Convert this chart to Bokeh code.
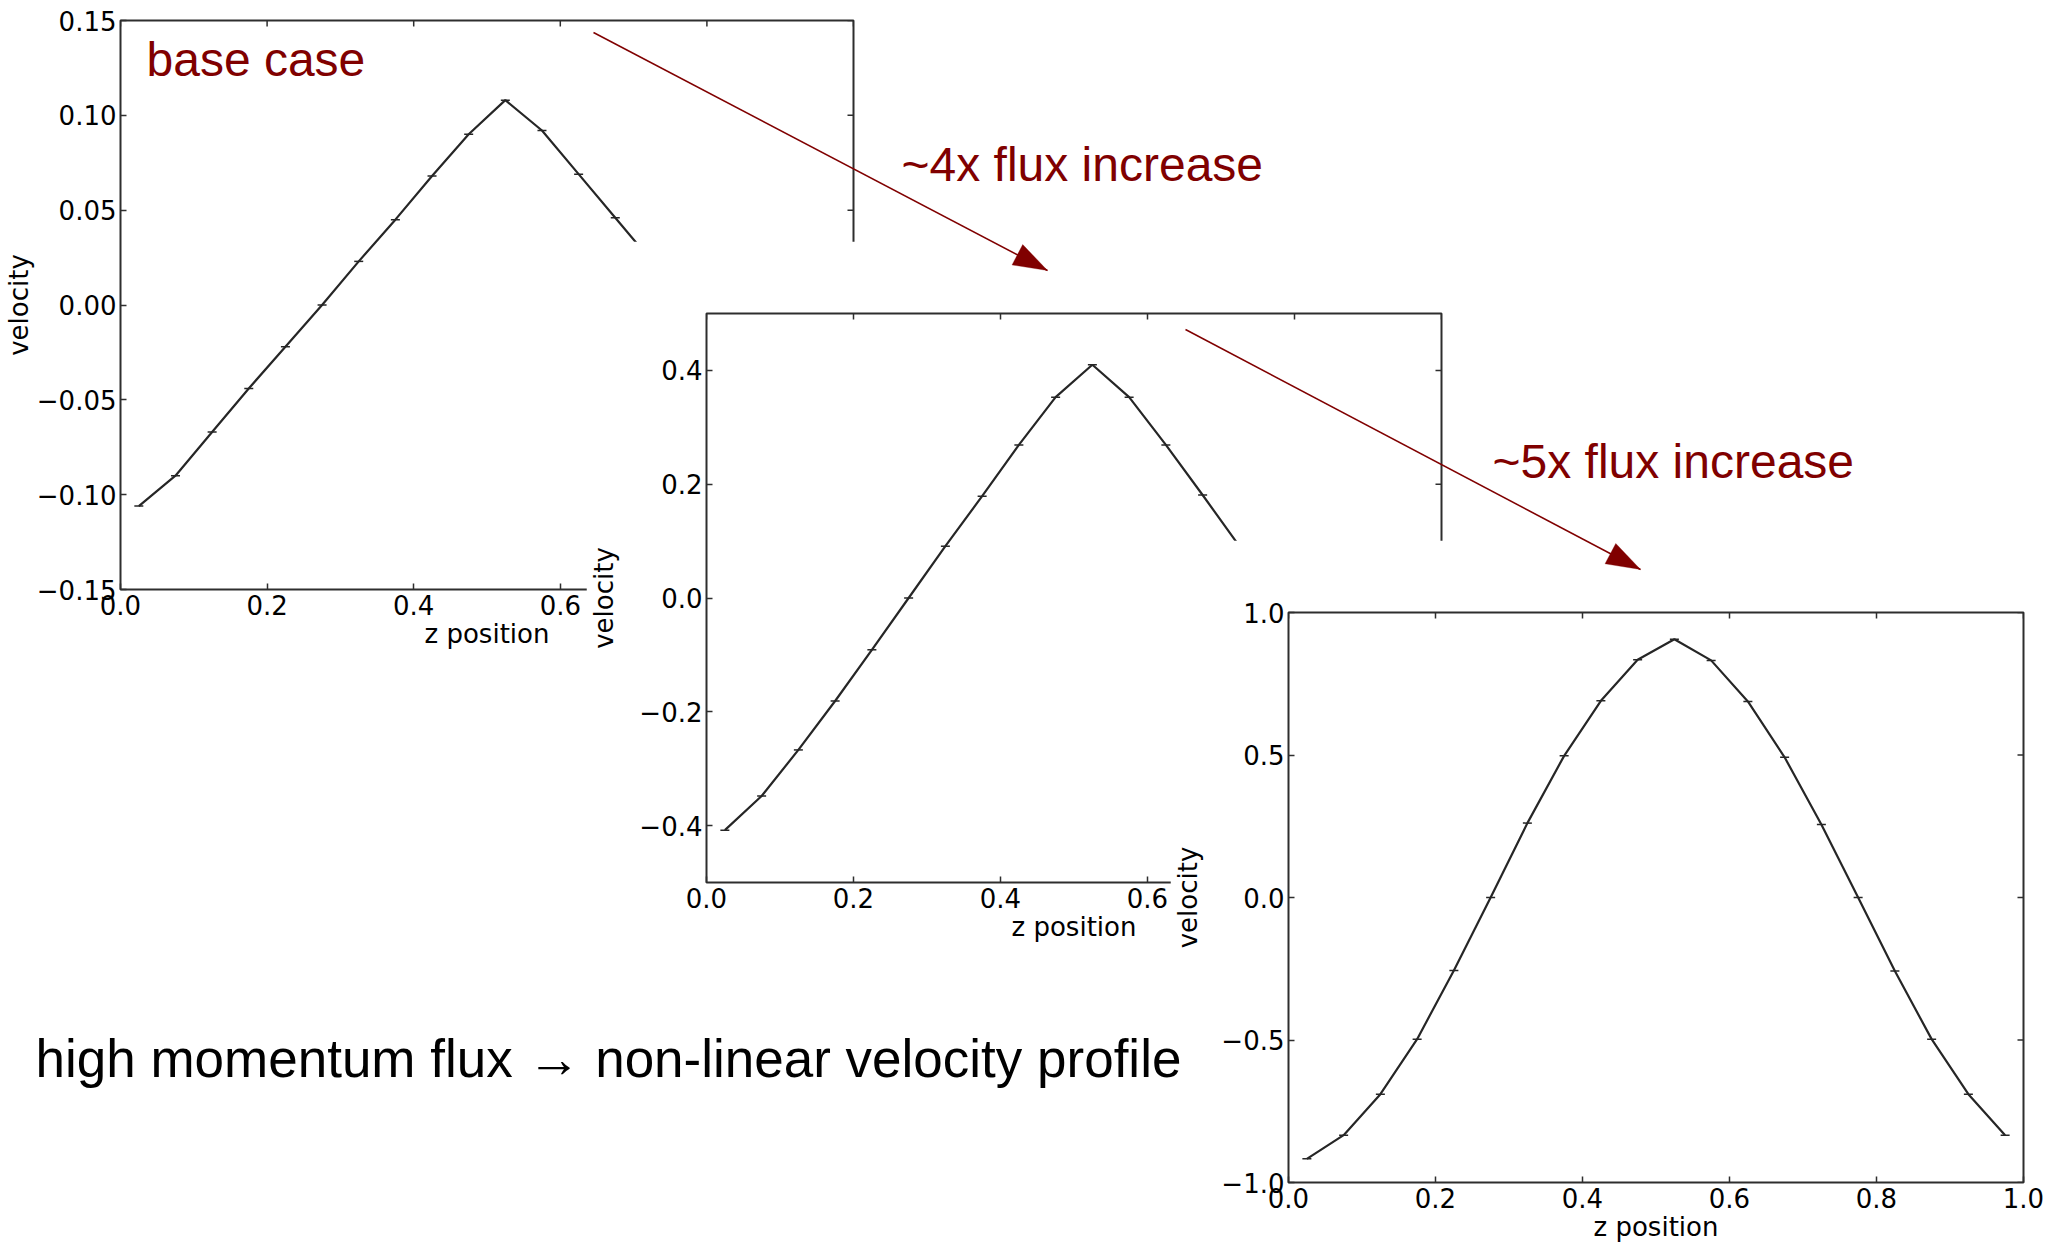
from math import pi, hypot

from bokeh.plotting import figure
from bokeh.models import Range1d, FixedTicker, Label, Arrow, PolyAnnotation, GridBox, Column
from bokeh.embed import file_html
from bokeh.resources import INLINE

# sample positions across the channel
z_pos = [0.025, 0.075, 0.125, 0.175, 0.225, 0.275, 0.325, 0.375, 0.425, 0.475,
         0.525, 0.575, 0.625, 0.675, 0.725, 0.775, 0.825, 0.875, 0.925, 0.975]

# velocity profiles: base case, ~4x flux, ~5x flux on top of that
vel_base = [-0.106, -0.090, -0.067, -0.044, -0.022, 0.000, 0.023, 0.045, 0.068, 0.090,
            0.108, 0.092, 0.069, 0.046, 0.023, 0.000, -0.022, -0.044, -0.067, -0.090]
vel_4x = [-0.408, -0.348, -0.267, -0.181, -0.091, 0.000, 0.091, 0.179, 0.269, 0.353,
          0.410, 0.353, 0.269, 0.181, 0.091, 0.000, -0.091, -0.181, -0.267, -0.348]
vel_5x = [-0.917, -0.834, -0.690, -0.497, -0.256, 0.000, 0.261, 0.497, 0.690, 0.834,
          0.906, 0.832, 0.688, 0.492, 0.256, 0.000, -0.258, -0.497, -0.690, -0.834]

x_ticks = [0.0, 0.2, 0.4, 0.6, 0.8, 1.0]
x_tick_labels = ["0.0", "0.2", "0.4", "0.6", "0.8", "1.0"]

base_ticks = [-0.15, -0.10, -0.05, 0.0, 0.05, 0.10, 0.15]
base_tick_labels = ["\u22120.15", "\u22120.10", "\u22120.05", "0.00", "0.05", "0.10", "0.15"]

mid_ticks = [-0.4, -0.2, 0.0, 0.2, 0.4]
mid_tick_labels = ["\u22120.4", "\u22120.2", "0.0", "0.2", "0.4"]

high_ticks = [-1.0, -0.5, 0.0, 0.5, 1.0]
high_tick_labels = ["\u22121.0", "\u22120.5", "0.0", "0.5", "1.0"]

PAGE_W, PAGE_H = 2065, 1244
AX_COLOR = "#2e2e2e"
LINE_COLOR = "#262626"
NOTE_COLOR = "#800000"
TICK_FONT = "DejaVu Sans"
TICK_SIZE = "26px"


def style_axis(ax, ticks, labels, tick_standoff, label_standoff):
    ax.ticker = FixedTicker(ticks=ticks)
    ax.major_label_overrides = dict(zip(ticks, labels))
    ax.major_tick_in = 6
    ax.major_tick_out = 0
    ax.major_tick_line_color = AX_COLOR
    ax.major_tick_line_width = 1.5
    ax.minor_tick_line_color = None
    ax.axis_line_color = None
    ax.major_label_text_font = TICK_FONT
    ax.major_label_text_font_size = TICK_SIZE
    ax.major_label_text_color = "black"
    ax.major_label_standoff = tick_standoff
    ax.axis_label_text_font = TICK_FONT
    ax.axis_label_text_font_size = TICK_SIZE
    ax.axis_label_text_font_style = "normal"
    ax.axis_label_text_color = "black"
    ax.axis_label_standoff = label_standoff


def profile_panel(values, y_lo, y_hi, y_ticks, y_labels, width, height,
                  left, top, right, bottom, ylabel_standoff):
    p = figure(width=width, height=height,
               x_range=Range1d(0, 1), y_range=Range1d(y_lo, y_hi),
               x_axis_label="z position", y_axis_label="velocity",
               output_backend="svg", toolbar_location=None, tools="",
               min_border_left=left, min_border_top=top,
               min_border_right=right, min_border_bottom=bottom)
    p.grid.visible = False
    p.outline_line_color = AX_COLOR
    p.outline_line_width = 2
    p.background_fill_color = "white"
    p.border_fill_color = "white"

    style_axis(p.xaxis[0], x_ticks, x_tick_labels, 5, 1)
    style_axis(p.yaxis[0], y_ticks, y_labels, 4, ylabel_standoff)

    # inward ticks on the top and right spines (half of each mark is clipped by the frame)
    p.scatter(x_ticks, [y_hi] * len(x_ticks), marker="dash", angle=pi / 2, size=12,
              line_color=AX_COLOR, line_width=1.5)
    p.scatter([1.0] * len(y_ticks), y_ticks, marker="dash", size=12,
              line_color=AX_COLOR, line_width=1.5)

    p.line(z_pos, values, line_color=LINE_COLOR, line_width=2.2)
    p.scatter(z_pos, values, marker="dash", size=9, line_color=LINE_COLOR, line_width=1.5)
    return p


def placed(fig, top, left):
    return Column(children=[fig], margin=(top, 0, 0, left))


p_base = profile_panel(vel_base, -0.15, 0.15, base_ticks, base_tick_labels,
                       893, 654, 118, 20, 40, 65, 0)
p_mid = profile_panel(vel_4x, -0.5, 0.5, mid_ticks, mid_tick_labels,
                      895, 706, 120, 72, 40, 65, 17)
p_high = profile_panel(vel_5x, -1.0, 1.0, high_ticks, high_tick_labels,
                       895, 704, 118, 72, 42, 62, 15)

# transparent page-sized layer for the notes and arrows (y measured upward)
notes = figure(width=PAGE_W, height=PAGE_H, x_range=Range1d(0, PAGE_W), y_range=Range1d(0, PAGE_H),
               x_axis_type=None, y_axis_type=None, min_border=0,
               output_backend="svg", toolbar_location=None, tools="",
               background_fill_alpha=0, border_fill_alpha=0, outline_line_color=None)
notes.grid.visible = False

for txt, x, y, size, color in [
    ("base case", 146, 59, "48px", NOTE_COLOR),
    ("~4x flux increase", 901, 164, "48px", NOTE_COLOR),
    ("~5x flux increase", 1492, 461, "48px", NOTE_COLOR),
    ("high momentum flux \u2192 non-linear velocity profile", 35, 1058, "53px", "black"),
]:
    notes.add_layout(Label(x=x, y=PAGE_H - y, text=txt, text_color=color,
                           text_font="Liberation Sans", text_font_size=size,
                           text_baseline="middle", text_align="left"))


def arrow_head(xs, ys, xe, ye, length=34, half_width=11.5):
    # long, narrow filled head with its tip on the arrow's end point
    dx, dy = xe - xs, ye - ys
    n = hypot(dx, dy)
    ux, uy = dx / n, dy / n
    bx, by = xe - ux * length, ye - uy * length
    px, py = -uy * half_width, ux * half_width
    return [xe, bx + px, bx - px], [ye, by + py, by - py]


for xs, ys, xe, ye in [(593, 32, 1047, 270), (1185, 329, 1640, 569)]:
    notes.add_layout(Arrow(x_start=xs, y_start=PAGE_H - ys, x_end=xe, y_end=PAGE_H - ye,
                           line_color=NOTE_COLOR, line_width=1.5, end=None))
    hx, hy = arrow_head(xs, ys, xe, ye)
    notes.add_layout(PolyAnnotation(xs=hx, ys=[PAGE_H - v for v in hy],
                                    fill_color=NOTE_COLOR, fill_alpha=1.0,
                                    line_color=NOTE_COLOR, line_width=1))

page = GridBox(children=[
    (placed(p_base, 0, 0), 0, 0),
    (placed(p_mid, 241, 586), 0, 0),
    (placed(p_high, 540, 1170), 0, 0),
    (placed(notes, 0, 0), 0, 0),
])

open("out.html", "w").write(file_html(page, INLINE))
